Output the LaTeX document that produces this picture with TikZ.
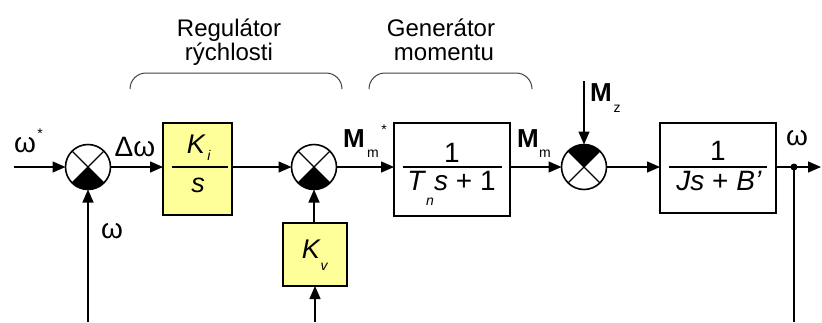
\documentclass[tikz,border=0pt]{standalone}
\usepackage{fontspec}
\setmainfont{Liberation Sans}
\usetikzlibrary{arrows.meta}
\definecolor{kbox}{RGB}{255,255,153}
\begin{document}
\begin{tikzpicture}[x=1pt,y=1pt,
 line/.style={line width=1.4pt},
 arr/.style={line width=1.4pt,-{Triangle[length=13pt,width=11pt]}},
 block/.style={draw,line width=2pt,inner sep=0pt,outer sep=0pt,anchor=north west},
 sumn/.style={draw,circle,line width=1.6pt,minimum size=45pt,inner sep=0pt,outer sep=0pt},
 txt/.style={inner sep=0pt,anchor=base,font=\fontsize{24}{24}\selectfont},
 lbl/.style={inner sep=0pt,anchor=base,font=\fontsize{26}{26}\selectfont\bfseries},
 wl/.style={inner sep=0pt,anchor=base,font=\fontsize{28}{28}\selectfont},
 sub/.style={inner sep=0pt,anchor=base,font=\fontsize{14}{14}\selectfont},
 isub/.style={inner sep=0pt,anchor=base,font=\fontsize{14}{14}\selectfont\itshape},
 ikt/.style={inner sep=0pt,anchor=base,font=\fontsize{27}{27}\selectfont\itshape},
 frac/.style={inner sep=0pt,anchor=base,font=\fontsize{28}{28}\selectfont},
 brace/.style={draw=black!75,line width=1pt,rounded corners=16pt}]
\useasboundingbox (0,0) rectangle (822,-322);
% blocks
\node[block,fill=kbox,minimum width=69pt,minimum height=92pt] (ki) at (163,-123) {};
\node[block,fill=kbox,minimum width=64pt,minimum height=63pt] (kv) at (283,-223) {};
\node[block,minimum width=116pt,minimum height=93pt] (tn) at (394,-123) {};
\node[block,minimum width=116pt,minimum height=90pt] (jb) at (660,-123) {};
% summing junctions
\node[sumn] (s1) at (88,-167) {};
\node[sumn] (s2) at (314,-167) {};
\node[sumn] (s3) at (584,-167) {};
\foreach \s in {s1,s2}{
  \fill (\s.center) -- (\s.225) arc[start angle=225,end angle=315,radius=22.5pt] -- cycle;
}
\fill (s3.center) -- (s3.45) arc[start angle=45,end angle=135,radius=22.5pt] -- cycle;
\foreach \s in {s1,s2,s3}{
  \draw[line width=1.2pt] (\s.45) -- (\s.225) (\s.135) -- (\s.315);
}
% branch point and free ends
\node[circle,fill,inner sep=0pt,minimum size=7pt] (dot) at (794,-167) {};
\coordinate (in) at (14,-167);
\coordinate (out) at (821,-167);
\coordinate (fbl) at (88,-322);
\coordinate (fbr) at (794,-322);
\coordinate (kvin) at (315,-322);
\coordinate (mz) at (584,-81);
% connectors
\draw[arr] (in) -- (s1.west);
\draw[arr] (s1.east) -- (s1.east -| ki.west);
\draw[arr] (s1.east -| ki.east) -- (s2.west);
\draw[arr] (s2.east) -- (s2.east -| tn.west);
\draw[arr] (s2.east -| tn.east) -- (s3.west);
\draw[arr] (s3.east) -- (s3.east -| jb.west);
\draw[line] (s3.east -| jb.east) -- (dot.center);
\draw[arr] (dot.center) -- (out);
\draw[line] (dot.center) -- (fbr);
\draw[arr] (fbl) -- (s1.south);
\draw[arr] (kvin) -- (kv.south);
\draw[arr] (kv.north -| s2.south) -- (s2.south);
\draw[arr] (mz) -- (s3.north);
% block contents
\draw[line width=1.4pt] (172,-167) -- (228,-167);
\node[ikt] (kik) at (196,-153) {K};
\node[isub] (kii) at (209,-160) {i};
\node[ikt] (kis) at (198,-192) {s};
\node[ikt] (kvk) at (311,-258) {K};
\node[isub] (kvv) at (324,-270) {v};
\draw[line width=1.4pt] (403,-167) -- (502,-167);
\node[frac] (tn1) at (452,-162) {1};
\node[frac,font=\fontsize{28}{28}\selectfont\itshape] (tnt) at (416,-190) {T};
\node[isub] (tnn) at (430,-205) {n};
\node[frac,anchor=base west] (tns) at (434,-190) {\textit{s} + 1};
\draw[line width=1.4pt] (669,-167) -- (767,-167);
\node[frac] (jb1) at (718,-160) {1};
\node[frac] (jbd) at (719,-190) {\textit{Js} + \textit{B\char"27}};
% signal labels
\node[wl] (w1) at (25,-152) {ω};
\node[sub] (w1s) at (40,-138) {*};
\node[wl] (dw) at (135,-156) {Δω};
\node[wl] (w2) at (112,-238) {ω};
\node[lbl] (mm1) at (354,-147) {M};
\node[sub] (mm1s) at (373,-157) {m};
\node[sub] (mm1t) at (384,-134) {*};
\node[lbl] (mm2) at (528,-147) {M};
\node[sub] (mm2s) at (545,-157) {m};
\node[lbl] (mzl) at (601,-101) {M};
\node[sub] (mzs) at (617,-112) {z};
\node[wl] (w3) at (797,-145) {ω};
% group labels
\draw[brace] (130,-89) -- (130,-73) -- (342,-73) -- (342,-89);
\draw[brace] (369,-89) -- (369,-73) -- (532,-73) -- (532,-89);
\node[txt] (reg1) at (229,-36) {Regulátor};
\node[txt] (reg2) at (229,-60) {rýchlosti};
\node[txt] (gen1) at (441,-36) {Generátor};
\node[txt] (gen2) at (444,-60) {momentu};
\end{tikzpicture}
\end{document}
